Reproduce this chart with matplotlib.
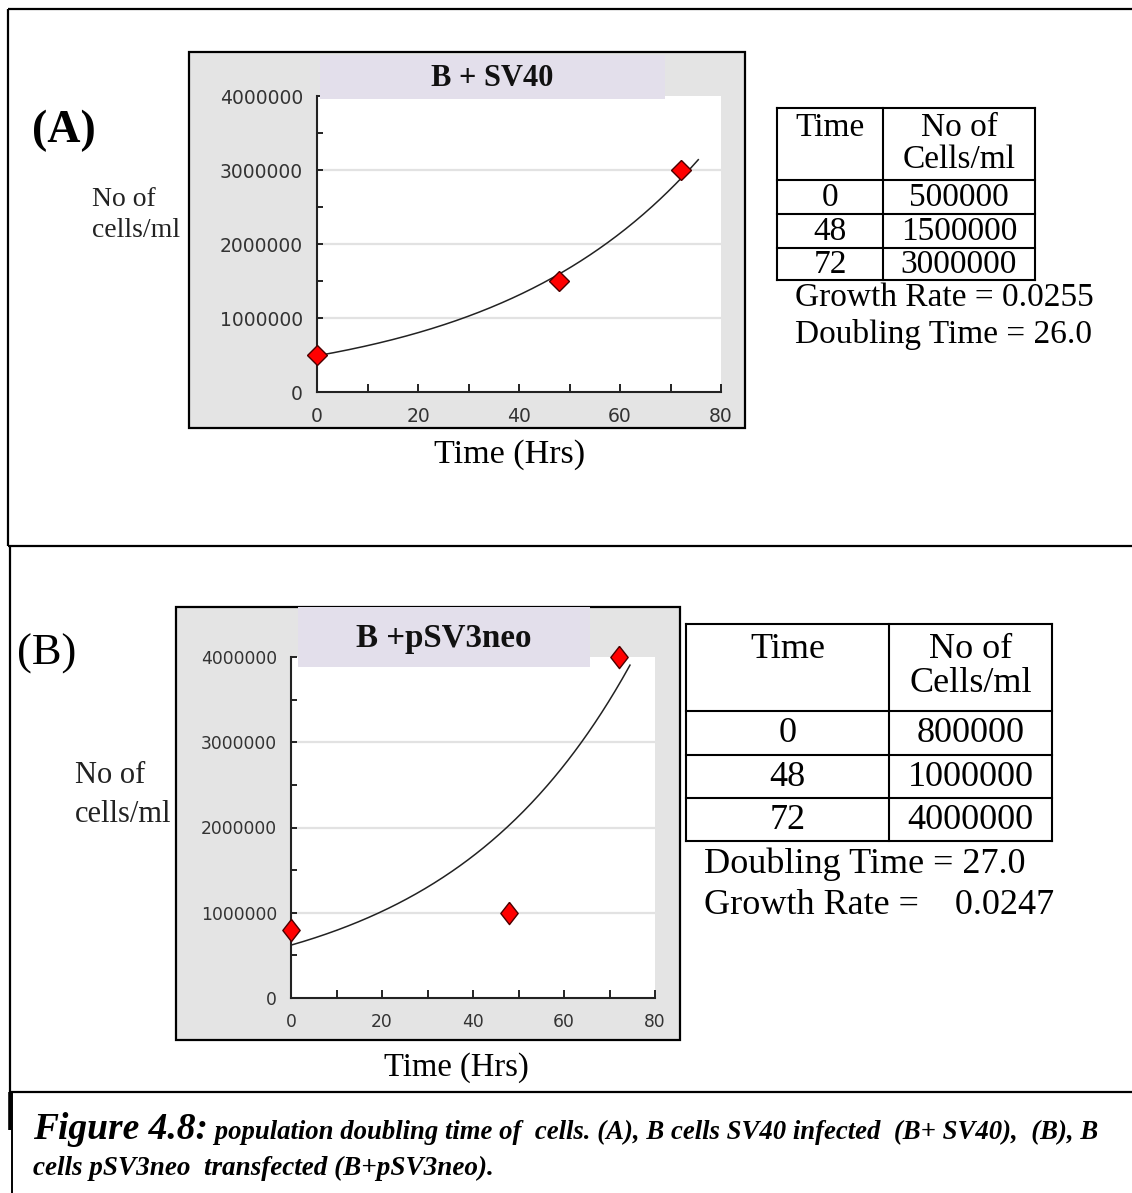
import numpy as np
import matplotlib
matplotlib.use('Agg')
import matplotlib.pyplot as plt
from matplotlib.patches import Rectangle
from matplotlib.ticker import MultipleLocator

# ---------------- data ----------------
time_hrs = [0, 48, 72]
cells_A = [500000, 1500000, 3000000]
cells_B = [800000, 1000000, 4000000]
title_A = "B + SV40"
title_B = "B +pSV3neo"
# exponential trendlines: y = a * exp(b * t)
trend_A = (490000, 0.0246)
trend_B = (620000, 0.0247)
trend_end = [75.5, 74.5]
growth_A, doubling_A = "0.0255", "26.0"
growth_B, doubling_B = "0.0247", "27.0"
x_ticks = [0, 20, 40, 60, 80]
y_ticks = [0, 1000000, 2000000, 3000000, 4000000]
table_header = ("Time", "No of\nCells/ml")
caption_head = "Figure 4.8:"
caption_l1 = " population doubling time of  cells. (A), B cells SV40 infected  (B+ SV40),  (B), B"
caption_l2 = "cells pSV3neo  transfected (B+pSV3neo)."

W, H = 1132, 1193
SERIF = 'Liberation Serif'
fig = plt.figure(figsize=(W / 100, H / 100), dpi=100)


def R(x0, y0, x1, y1):
    return [x0 / W, 1 - y1 / H, (x1 - x0) / W, (y1 - y0) / H]


under = fig.add_axes([0, 0, 1, 1], zorder=-5)
under.set_xlim(0, W); under.set_ylim(H, 0); under.axis('off')
over = fig.add_axes([0, 0, 1, 1], zorder=10)
over.set_xlim(0, W); over.set_ylim(H, 0); over.axis('off')
over.patch.set_alpha(0)

# outer panel borders
K = dict(color='black', lw=1.6, solid_capstyle='butt')
under.plot([8, 8], [9, 546], **K)
under.plot([8, W], [9, 9], **K)
under.plot([8, W], [546, 546], **K)
under.plot([10, 10], [546, 1092], **K)
under.plot([10, W], [1092, 1092], **K)
under.plot([9.5, 9.5], [1092, 1130], color='black', lw=2.6, solid_capstyle='butt')
under.plot([12, 12], [1092, H], color='black', lw=1.4, solid_capstyle='butt')


def panel(frame, plot, tbox, title, title_fs, ys, trend, tend, tick_fs, marker, ms):
    # grey chart frame
    under.add_patch(Rectangle((frame[0], frame[1]), frame[2] - frame[0], frame[3] - frame[1],
                              facecolor='#e4e4e4', edgecolor='black', lw=1.6))
    ax = fig.add_axes(R(*plot), zorder=1)
    ax.set_facecolor('white')
    ax.set_xlim(0, 80)
    ax.set_ylim(0, 4000000)
    for s in ['top', 'right']:
        ax.spines[s].set_visible(False)
    for s in ['left', 'bottom']:
        ax.spines[s].set_color('#222222')
        ax.spines[s].set_linewidth(1.5)
    ax.set_xticks(x_ticks)
    ax.set_xticklabels([str(v) for v in x_ticks])
    ax.set_yticks(y_ticks)
    ax.set_yticklabels([str(v) for v in y_ticks])
    ax.xaxis.set_minor_locator(MultipleLocator(10))
    ax.yaxis.set_minor_locator(MultipleLocator(500000))
    ax.tick_params(axis='x', which='both', direction='in', length=6, width=1.4,
                   color='#222222', pad=11)
    ax.tick_params(axis='y', which='both', direction='in', length=4.5, width=1.4,
                   color='#222222', pad=10)
    ax.tick_params(axis='both', which='major', labelsize=tick_fs, labelcolor='#333333')
    for v in y_ticks[1:-1]:
        ax.axhline(v, color='#e2e2e2', lw=1.6, zorder=0.5)
    t = np.linspace(0, tend, 300)
    ax.plot(t, trend[0] * np.exp(trend[1] * t), color='#222222', lw=1.1, zorder=2)
    ax.plot(time_hrs, ys, ls='none', marker=marker, ms=ms, mfc='#ff0000',
            mec='#4a0000', mew=1.0, clip_on=False, zorder=5)
    # title box
    over.add_patch(Rectangle((tbox[0], tbox[1]), tbox[2] - tbox[0], tbox[3] - tbox[1],
                             facecolor='#e3dfeb', edgecolor='none'))
    over.text((tbox[0] + tbox[2]) / 2, (tbox[1] + tbox[3]) / 2 + 1, title, fontsize=title_fs,
              fontweight='bold', family=SERIF, ha='center', va='center', color='#111111')
    return ax


panel((189, 52, 745, 428), (317, 96, 721, 392), (320, 55, 665, 99), title_A, 22,
      cells_A, trend_A, trend_end[0], 13.5, 'D', 10)
diamB = [(0, 1), (0.78, 0), (0, -1), (-0.78, 0), (0, 1)]
panel((176, 607, 680, 1040), (291, 657, 655, 998), (298, 607, 590, 667), title_B, 23.8,
      cells_B, trend_B, trend_end[1], 12.3, diamB, 16)

# panel labels and axis titles
over.text(32, 131, "(A)", fontsize=33, fontweight='bold', family=SERIF, va='center', ha='left')
over.text(17, 654, "(B)", fontsize=32, family=SERIF, va='center', ha='left')
over.text(92, 215, "No of\ncells/ml", fontsize=20, family=SERIF, va='center', ha='left',
          linespacing=1.32, color='#222222')
over.text(75, 795, "No of\ncells/ml", fontsize=22, family=SERIF, va='center', ha='left',
          linespacing=1.45, color='#222222')
over.text(510, 455, "Time (Hrs)", fontsize=24.5, family=SERIF, va='center', ha='center')
over.text(456, 1068, "Time (Hrs)", fontsize=23.5, family=SERIF, va='center', ha='center')


def table(x, rows_y, fs, values, times, hoff, hls):
    x0, xm, x1 = x
    for yy in rows_y:
        over.plot([x0, x1], [yy, yy], color='black', lw=1.5, solid_capstyle='projecting')
    for xx in x:
        over.plot([xx, xx], [rows_y[0], rows_y[-1]], color='black', lw=1.5)
    c0, c1 = (x0 + xm) / 2, (xm + x1) / 2
    hy = rows_y[0] + hoff
    over.text(c0, hy, table_header[0], fontsize=fs, family=SERIF, ha='center', va='top')
    over.text(c1, hy, table_header[1], fontsize=fs, family=SERIF, ha='center', va='top',
              linespacing=hls)
    for i, (tt, vv) in enumerate(zip(times, values)):
        yc = (rows_y[i + 1] + rows_y[i + 2]) / 2 + 1
        over.text(c0, yc, str(tt), fontsize=fs, family=SERIF, ha='center', va='center')
        over.text(c1, yc, str(vv), fontsize=fs, family=SERIF, ha='center', va='center')


table((777, 883, 1035), [108, 180, 214, 248, 280], 24, cells_A, time_hrs, 4, 1.07)
over.text(795, 298, f"Growth Rate = {growth_A}", fontsize=24, family=SERIF, va='center')
over.text(795, 335, f"Doubling Time = {doubling_A}", fontsize=24, family=SERIF, va='center')

table((686, 889, 1052), [624, 711, 755, 798, 841], 26, cells_B, time_hrs, 9, 1.05)
over.text(704, 864, f"Doubling Time = {doubling_B}", fontsize=26, family=SERIF, va='center')
over.text(704, 905, f"Growth Rate =    {growth_B}", fontsize=26, family=SERIF, va='center')

# caption
t1 = over.text(33, 1139, caption_head, fontsize=27, family=SERIF, fontweight='bold',
               fontstyle='italic', va='baseline', ha='left')
renderer = fig.canvas.get_renderer()
bb = t1.get_window_extent(renderer)
over.text(bb.x1, 1139, caption_l1, fontsize=19.3, family=SERIF, fontweight='bold',
          fontstyle='italic', va='baseline', ha='left')
over.text(33, 1175, caption_l2, fontsize=19.5, family=SERIF, fontweight='bold',
          fontstyle='italic', va='baseline', ha='left')

fig.savefig('out.png', dpi=100)
